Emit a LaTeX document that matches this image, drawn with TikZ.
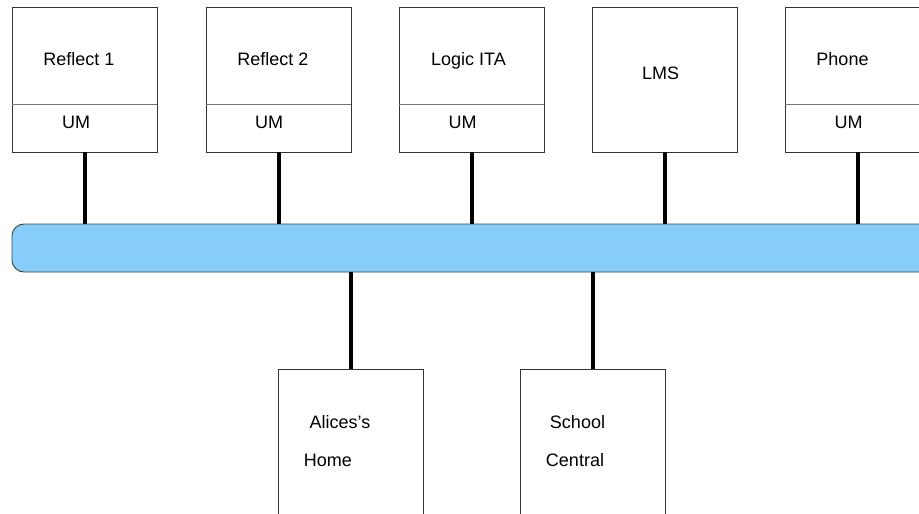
\documentclass[tikz,border=0pt]{standalone}
\usepackage{fontspec}
\setmainfont{Liberation Sans}
\begin{document}
\begin{tikzpicture}[x=1pt,y=-1pt,
  box/.style={draw=black!80,line width=0.9pt,fill=white,minimum width=145pt,minimum height=145pt,inner sep=0pt,outer sep=0pt},
  lowbox/.style={draw=black!80,line width=0.9pt,fill=white,minimum width=145pt,minimum height=171pt,inner sep=0pt,outer sep=0pt},
  divider/.style={draw=black!55,line width=1pt},
  lbl/.style={font=\fontsize{18}{20}\selectfont,inner sep=0pt,anchor=base},
  link/.style={draw=black,line width=4pt},
  bus/.style={draw=black!75,line width=0.9pt,fill={rgb,255:red,135;green,206;blue,250},rounded corners=12pt,minimum width=928pt,minimum height=48pt,inner sep=0pt,outer sep=0pt}
]
\useasboundingbox (0,0) rectangle (919,514);
\clip (0,0) rectangle (919,514);
% top boxes
\node[box] (b1) at (84.5,79.5) {};
\node[box] (b2) at (278.5,79.5) {};
\node[box] (b3) at (471.5,79.5) {};
\node[box] (b4) at (664.5,79.5) {};
\node[box] (b5) at (857.5,79.5) {};
% dividers
\foreach \b in {b1,b2,b3,b5}{
  \coordinate (\b dl) at ([yshift=-48pt]\b.south west);
  \draw[divider] (\b.west |- 0,104) -- (\b.east |- 0,104);
}
% labels
\node[lbl] (t1) at (79,65) {Reflect 1};
\node[lbl] (t2) at (273,65) {Reflect 2};
\node[lbl] (t3) at (468.5,65) {Logic ITA};
\node[lbl] (t4) at (660.5,79) {LMS};
\node[lbl] (t5) at (842.5,65) {Phone};
\node[lbl] (u1) at (76,128) {UM};
\node[lbl] (u2) at (269,128) {UM};
\node[lbl] (u3) at (462.5,128) {UM};
\node[lbl] (u5) at (848.5,128) {UM};
% bus
\node[bus] (bus) at (476,248) {};
% bottom boxes
\node[lowbox] (home) at (350.5,454.5) {};
\node[lowbox] (school) at (592.5,454.5) {};
\node[lbl] (h1) at (340,428) {Alices’s};
\node[lbl] (h2) at (328,466) {Home};
\node[lbl] (s1) at (577.5,428) {School};
\node[lbl] (s2) at (575,466) {Central};
% links
\foreach \b in {b1,b2,b3,b4,b5}{
  \draw[link] (\b.south) -- (\b.south |- bus.north);
}
\draw[link] (home.north) -- (home.north |- bus.south);
\draw[link] (school.north) -- (school.north |- bus.south);
\end{tikzpicture}
\end{document}
